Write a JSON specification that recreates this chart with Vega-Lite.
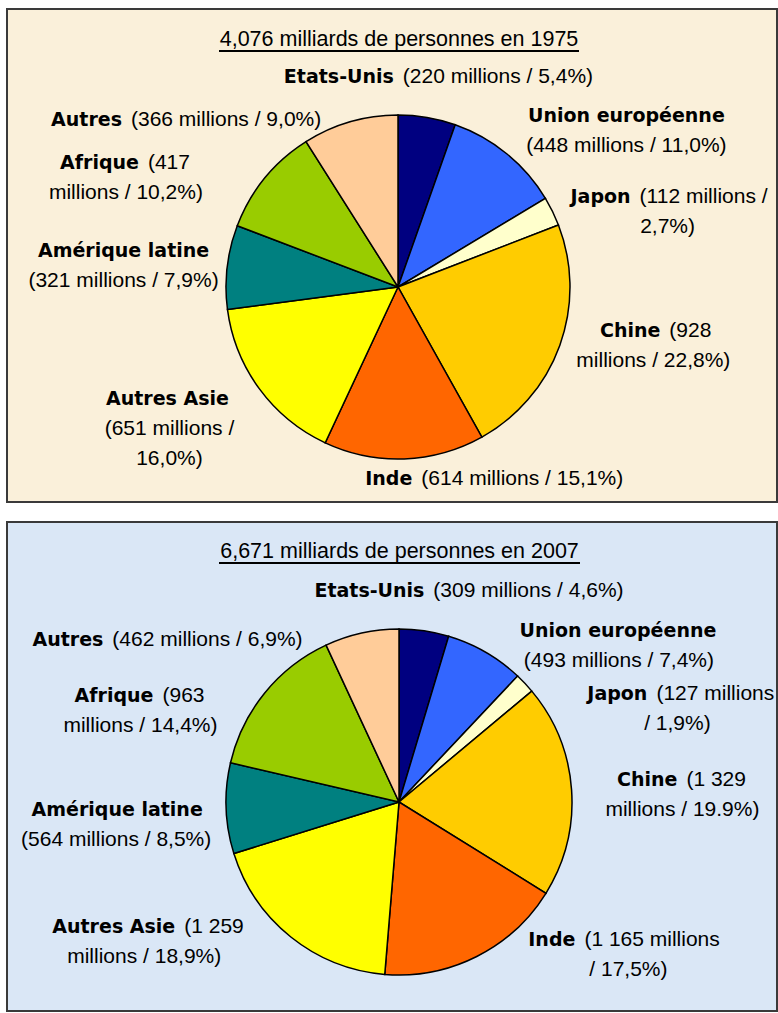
{
  "$schema": "https://vega.github.io/schema/vega-lite/v6.json",
  "background": "white",
  "padding": {"left": 6, "top": 8, "right": 0, "bottom": 0},
  "spacing": 20,
  "bounds": "flush",
  "resolve": {"scale": {"theta": "independent"}},
  "datasets": {
    "pop1975": [
      {"rank": 1, "name": "Etats-Unis", "millions": 220, "rest": "(220 millions / 5,4%)", "more": ""},
      {"rank": 2, "name": "Union européenne", "millions": 448, "rest": "", "more": "(448 millions / 11,0%)"},
      {"rank": 3, "name": "Japon", "millions": 112, "rest": "(112 millions /", "more": "2,7%)"},
      {"rank": 4, "name": "Chine", "millions": 928, "rest": "(928", "more": "millions / 22,8%)"},
      {"rank": 5, "name": "Inde", "millions": 614, "rest": "(614 millions / 15,1%)", "more": ""},
      {"rank": 6, "name": "Autres Asie", "millions": 651, "rest": "", "more": "(651 millions /\n16,0%)"},
      {"rank": 7, "name": "Amérique latine", "millions": 321, "rest": "", "more": "(321 millions / 7,9%)"},
      {"rank": 8, "name": "Afrique", "millions": 417, "rest": "(417", "more": "millions / 10,2%)"},
      {"rank": 9, "name": "Autres", "millions": 366, "rest": "(366 millions / 9,0%)", "more": ""}
    ],
    "pop2007": [
      {"rank": 1, "name": "Etats-Unis", "millions": 309, "rest": "(309 millions / 4,6%)", "more": ""},
      {"rank": 2, "name": "Union européenne", "millions": 493, "rest": "", "more": "(493 millions / 7,4%)"},
      {"rank": 3, "name": "Japon", "millions": 127, "rest": "(127 millions", "more": "/ 1,9%)"},
      {"rank": 4, "name": "Chine", "millions": 1329, "rest": "(1 329", "more": "millions / 19.9%)"},
      {"rank": 5, "name": "Inde", "millions": 1165, "rest": "(1 165 millions", "more": "/ 17,5%)"},
      {"rank": 6, "name": "Autres Asie", "millions": 1259, "rest": "(1 259", "more": "millions / 18,9%)"},
      {"rank": 7, "name": "Amérique latine", "millions": 564, "rest": "", "more": "(564 millions / 8,5%)"},
      {"rank": 8, "name": "Afrique", "millions": 963, "rest": "(963", "more": "millions / 14,4%)"},
      {"rank": 9, "name": "Autres", "millions": 462, "rest": "(462 millions / 6,9%)", "more": ""}
    ],
    "titre1975": [{"titre": "4,076 milliards de personnes en 1975"}],
    "titre2007": [{"titre": "6,671 milliards de personnes en 2007"}]
  },
  "vconcat": [
    {
      "width": 770,
      "height": 493,
      "view": {"fill": "#FAF0DA", "stroke": "#3A3A3A", "strokeWidth": 2},
      "layer": [
        {
          "data": {"name": "pop1975"},
          "mark": {"type": "arc", "outerRadius": 172, "stroke": "#000000", "strokeWidth": 1.5},
          "encoding": {
            "theta": {"field": "millions", "type": "quantitative", "stack": true},
            "order": {"field": "rank", "type": "quantitative"},
            "color": {"field": "name", "type": "nominal", "legend": null,
              "scale": {"domain": ["Etats-Unis", "Union européenne", "Japon", "Chine", "Inde", "Autres Asie", "Amérique latine", "Afrique", "Autres"],
                        "range": ["#000080", "#3366FF", "#FFFFCC", "#FFCC00", "#FF6600", "#FFFF00", "#008080", "#99CC00", "#FFCC99"]}},
            "x": {"value": 391},
            "y": {"value": 278}
          }
        },
        {
          "data": {"name": "pop1975"},
          "mark": {"type": "text", "radius": 230, "align": "right", "baseline": "alphabetic", "font": "DejaVu Sans", "fontWeight": "bold", "fontSize": 19, "color": "#000000",
            "dx": {"expr": "[-38,83,31,51,11,-45,-46,-76,-207][datum.rank-1]-5"},
            "dy": {"expr": "[23,13,17,-28,-32,-18,-3,28,60][datum.rank-1]"}},
          "encoding": {
            "theta": {"field": "millions", "type": "quantitative", "stack": true},
            "order": {"field": "rank", "type": "quantitative"},
            "detail": {"field": "name", "type": "nominal"},
            "x": {"value": 391},
            "y": {"value": 278},
            "text": {"condition": {"test": "datum.rest === ''", "value": ""}, "field": "name", "type": "nominal"}
          }
        },
        {
          "data": {"name": "pop1975"},
          "mark": {"type": "text", "radius": 230, "align": "left", "baseline": "alphabetic", "font": "Liberation Sans", "fontSize": 21, "color": "#000000",
            "dx": {"expr": "[-38,83,31,51,11,-45,-46,-76,-207][datum.rank-1]+4"},
            "dy": {"expr": "[23,13,17,-28,-32,-18,-3,28,60][datum.rank-1]"}},
          "encoding": {
            "theta": {"field": "millions", "type": "quantitative", "stack": true},
            "order": {"field": "rank", "type": "quantitative"},
            "detail": {"field": "name", "type": "nominal"},
            "x": {"value": 391},
            "y": {"value": 278},
            "text": {"field": "rest", "type": "nominal"}
          }
        },
        {
          "data": {"name": "pop1975"},
          "mark": {"type": "text", "radius": 230, "align": "center", "baseline": "alphabetic", "font": "DejaVu Sans", "fontWeight": "bold", "fontSize": 19, "color": "#000000",
            "dx": {"expr": "[-38,83,31,51,11,-45,-46,-76,-207][datum.rank-1]"},
            "dy": {"expr": "[23,13,17,-28,-32,-18,-3,28,60][datum.rank-1]"}},
          "encoding": {
            "theta": {"field": "millions", "type": "quantitative", "stack": true},
            "order": {"field": "rank", "type": "quantitative"},
            "detail": {"field": "name", "type": "nominal"},
            "x": {"value": 391},
            "y": {"value": 278},
            "text": {"condition": {"test": "datum.rest !== ''", "value": ""}, "field": "name", "type": "nominal"}
          }
        },
        {
          "data": {"name": "pop1975"},
          "mark": {"type": "text", "radius": 230, "align": "center", "baseline": "alphabetic", "font": "Liberation Sans", "fontSize": 21, "color": "#000000", "lineBreak": "\n", "lineHeight": 30,
            "dx": {"expr": "[-38,83,63,39,11,-43,-46,-94,-207][datum.rank-1]"},
            "dy": {"expr": "[53,43,47,2,-2,12,27,58,90][datum.rank-1]"}},
          "encoding": {
            "theta": {"field": "millions", "type": "quantitative", "stack": true},
            "order": {"field": "rank", "type": "quantitative"},
            "detail": {"field": "name", "type": "nominal"},
            "x": {"value": 391},
            "y": {"value": 278},
            "text": {"field": "more", "type": "nominal"}
          }
        },
        {
          "data": {"name": "titre1975"},
          "mark": {"type": "text", "align": "center", "baseline": "alphabetic", "font": "Liberation Sans", "fontSize": 21.5, "color": "#000000"},
          "encoding": {"text": {"field": "titre", "type": "nominal"}, "x": {"value": 392}, "y": {"value": 37}}
        },
        {
          "data": {"name": "titre1975"},
          "mark": {"type": "rule", "strokeWidth": 2, "color": "#000000"},
          "encoding": {"x": {"value": 212}, "x2": {"value": 572}, "y": {"value": 42}}
        }
      ]
    },
    {
      "width": 770,
      "height": 489,
      "view": {"fill": "#DAE7F6", "stroke": "#3A3A3A", "strokeWidth": 2},
      "layer": [
        {
          "data": {"name": "pop2007"},
          "mark": {"type": "arc", "outerRadius": 173, "stroke": "#000000", "strokeWidth": 1.5},
          "encoding": {
            "theta": {"field": "millions", "type": "quantitative", "stack": true},
            "order": {"field": "rank", "type": "quantitative"},
            "color": {"field": "name", "type": "nominal", "legend": null,
              "scale": {"domain": ["Etats-Unis", "Union européenne", "Japon", "Chine", "Inde", "Autres Asie", "Amérique latine", "Afrique", "Autres"],
                        "range": ["#000080", "#3366FF", "#FFFFCC", "#FFCC00", "#FF6600", "#FFFF00", "#008080", "#99CC00", "#FFCC99"]}},
            "x": {"value": 392},
            "y": {"value": 280}
          }
        },
        {
          "data": {"name": "pop2007"},
          "mark": {"type": "text", "radius": 230, "align": "right", "baseline": "alphabetic", "font": "DejaVu Sans", "fontWeight": "bold", "fontSize": 19, "color": "#000000",
            "dx": {"expr": "[-3,104,86,54,78,-75,-52,-62,-241][datum.rank-1]-5"},
            "dy": {"expr": "[23,34,56,0,-61,-49,5,45,69][datum.rank-1]"}},
          "encoding": {
            "theta": {"field": "millions", "type": "quantitative", "stack": true},
            "order": {"field": "rank", "type": "quantitative"},
            "detail": {"field": "name", "type": "nominal"},
            "x": {"value": 392},
            "y": {"value": 280},
            "text": {"condition": {"test": "datum.rest === ''", "value": ""}, "field": "name", "type": "nominal"}
          }
        },
        {
          "data": {"name": "pop2007"},
          "mark": {"type": "text", "radius": 230, "align": "left", "baseline": "alphabetic", "font": "Liberation Sans", "fontSize": 21, "color": "#000000",
            "dx": {"expr": "[-3,104,86,54,78,-75,-52,-62,-241][datum.rank-1]+4"},
            "dy": {"expr": "[23,34,56,0,-61,-49,5,45,69][datum.rank-1]"}},
          "encoding": {
            "theta": {"field": "millions", "type": "quantitative", "stack": true},
            "order": {"field": "rank", "type": "quantitative"},
            "detail": {"field": "name", "type": "nominal"},
            "x": {"value": 392},
            "y": {"value": 280},
            "text": {"field": "rest", "type": "nominal"}
          }
        },
        {
          "data": {"name": "pop2007"},
          "mark": {"type": "text", "radius": 230, "align": "center", "baseline": "alphabetic", "font": "DejaVu Sans", "fontWeight": "bold", "fontSize": 19, "color": "#000000",
            "dx": {"expr": "[-3,104,86,54,78,-75,-52,-62,-241][datum.rank-1]"},
            "dy": {"expr": "[23,34,56,0,-61,-49,5,45,69][datum.rank-1]"}},
          "encoding": {
            "theta": {"field": "millions", "type": "quantitative", "stack": true},
            "order": {"field": "rank", "type": "quantitative"},
            "detail": {"field": "name", "type": "nominal"},
            "x": {"value": 392},
            "y": {"value": 280},
            "text": {"condition": {"test": "datum.rest !== ''", "value": ""}, "field": "name", "type": "nominal"}
          }
        },
        {
          "data": {"name": "pop2007"},
          "mark": {"type": "text", "radius": 230, "align": "center", "baseline": "alphabetic", "font": "Liberation Sans", "fontSize": 21, "color": "#000000", "lineBreak": "\n", "lineHeight": 30,
            "dx": {"expr": "[-3,105,111,54,126,-111,-53,-80,-241][datum.rank-1]"},
            "dy": {"expr": "[53,64,86,30,-31,-19,35,75,99][datum.rank-1]"}},
          "encoding": {
            "theta": {"field": "millions", "type": "quantitative", "stack": true},
            "order": {"field": "rank", "type": "quantitative"},
            "detail": {"field": "name", "type": "nominal"},
            "x": {"value": 392},
            "y": {"value": 280},
            "text": {"field": "more", "type": "nominal"}
          }
        },
        {
          "data": {"name": "titre2007"},
          "mark": {"type": "text", "align": "center", "baseline": "alphabetic", "font": "Liberation Sans", "fontSize": 21.5, "color": "#000000"},
          "encoding": {"text": {"field": "titre", "type": "nominal"}, "x": {"value": 392.5}, "y": {"value": 36}}
        },
        {
          "data": {"name": "titre2007"},
          "mark": {"type": "rule", "strokeWidth": 2, "color": "#000000"},
          "encoding": {"x": {"value": 212}, "x2": {"value": 573}, "y": {"value": 41}}
        }
      ]
    }
  ]
}
